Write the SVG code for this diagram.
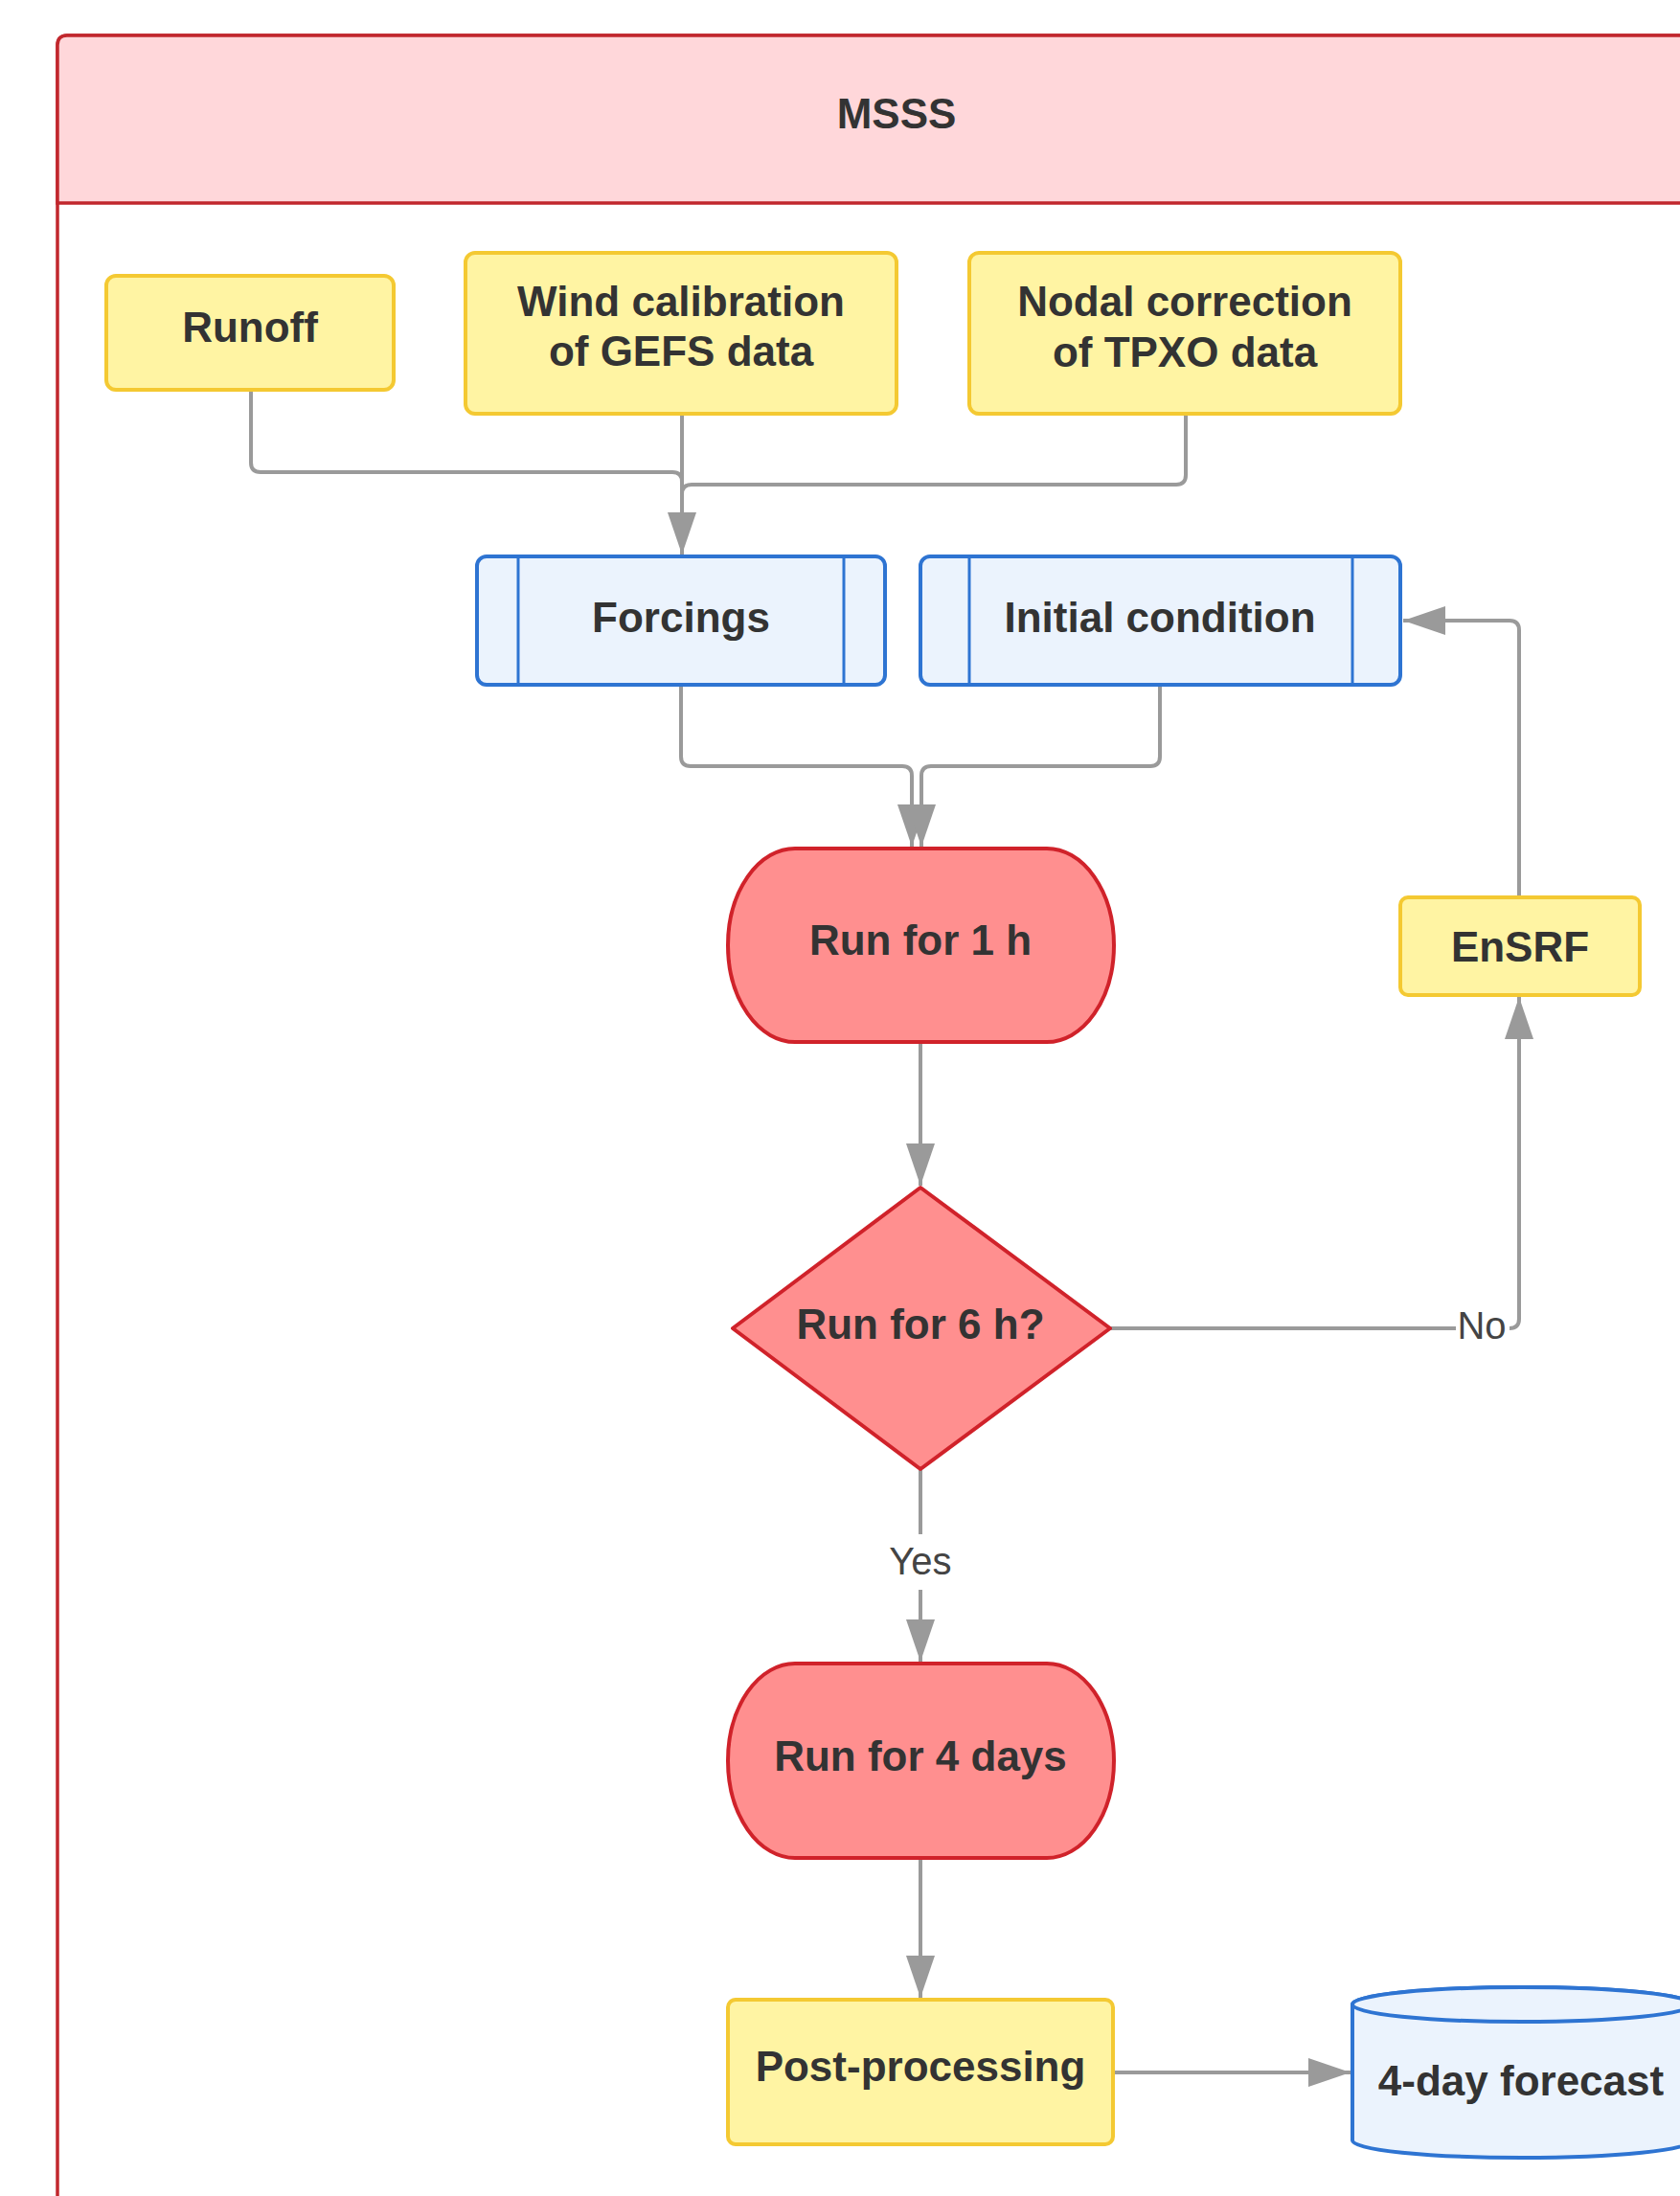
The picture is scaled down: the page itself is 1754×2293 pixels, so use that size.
<svg xmlns="http://www.w3.org/2000/svg" width="1754" height="2293" viewBox="0 0 1754 2293">
<style>
.t{font-family:"Liberation Sans",Arial,sans-serif;font-size:44px;font-weight:bold;fill:#333333;text-anchor:middle}
.l{font-family:"Liberation Sans",Arial,sans-serif;font-size:40px;fill:#444444;text-anchor:middle}
.y{fill:#fff4a3;stroke:#f4c932;stroke-width:4}
.r{fill:#ff8f8f;stroke:#d0222a;stroke-width:4;stroke-linejoin:round}
.b{fill:#ebf3fd;stroke:#2e74d2;stroke-width:4}
.c{fill:none;stroke:#9a9a9a;stroke-width:4}
</style>
<defs>
<marker id="ah" viewBox="0 0 44 30" refX="44" refY="15" markerWidth="44" markerHeight="30" markerUnits="userSpaceOnUse" orient="auto">
<path d="M0,0 L44,15 L0,30 Z" fill="#9a9a9a"/>
</marker>
</defs>
<rect width="1754" height="2293" fill="#ffffff"/>
<g id="container">
<rect x="60" y="37" width="1780" height="2330" rx="10" fill="#ffffff" stroke="#c1272d" stroke-width="3.5"/>
<path d="M60 212 V47 Q60 37 70 37 H1840 V212 Z" fill="#ffd7da" stroke="#c1272d" stroke-width="3.5"/>
<text class="t" x="936" y="134">MSSS</text>
</g>
<g id="connectors">
<path class="c" d="M262 407 V483 Q262 493 272 493 H702 Q712 493 712 503"/>
<path class="c" d="M712 432 V579" marker-end="url(#ah)"/>
<path class="c" d="M1238 432 V496 Q1238 506 1228 506 H722 Q712 506 712 516"/>
<path class="c" d="M711 715 V790 Q711 800 721 800 H942 Q952 800 952 810 V884" marker-end="url(#ah)"/>
<path class="c" d="M1211 715 V790 Q1211 800 1201 800 H972 Q962 800 962 810 V884" marker-end="url(#ah)"/>
<path class="c" d="M961 1088 V1238" marker-end="url(#ah)"/>
<path class="c" d="M1159 1387 H1576 Q1586 1387 1586 1377 V1041" marker-end="url(#ah)"/>
<path class="c" d="M1586 938 V658 Q1586 648 1576 648 H1465" marker-end="url(#ah)"/>
<path class="c" d="M961 1534 V1735" marker-end="url(#ah)"/>
<path class="c" d="M961 1940 V2086" marker-end="url(#ah)"/>
<path class="c" d="M1163 2164 H1410" marker-end="url(#ah)"/>
<rect x="1520" y="1362" width="56" height="44" fill="#ffffff"/>
<text class="l" x="1547" y="1398">No</text>
<rect x="922" y="1602" width="78" height="58" fill="#ffffff"/>
<text class="l" x="961" y="1644">Yes</text>
</g>
<g id="runoff">
<rect class="y" x="111" y="288" width="300" height="119" rx="10"/>
<text class="t" x="261" y="357">Runoff</text>
</g>
<g id="wind">
<rect class="y" x="486" y="264" width="450" height="168" rx="10"/>
<text class="t" x="711" y="330">Wind calibration</text>
<text class="t" x="711" y="382">of GEFS data</text>
</g>
<g id="nodal">
<rect class="y" x="1012" y="264" width="450" height="168" rx="10"/>
<text class="t" x="1237" y="330">Nodal correction</text>
<text class="t" x="1237" y="383">of TPXO data</text>
</g>
<g id="forcings">
<rect class="b" x="498" y="581" width="426" height="134" rx="10"/>
<line x1="541" y1="581" x2="541" y2="715" stroke="#2e74d2" stroke-width="3"/>
<line x1="881" y1="581" x2="881" y2="715" stroke="#2e74d2" stroke-width="3"/>
<text class="t" x="711" y="660">Forcings</text>
</g>
<g id="initial">
<rect class="b" x="961" y="581" width="501" height="134" rx="10"/>
<line x1="1012" y1="581" x2="1012" y2="715" stroke="#2e74d2" stroke-width="3"/>
<line x1="1412" y1="581" x2="1412" y2="715" stroke="#2e74d2" stroke-width="3"/>
<text class="t" x="1211" y="660">Initial condition</text>
</g>
<g id="run1h">
<path class="r" d="M830 886 H1093 A70 101 0 0 1 1093 1088 H830 A70 101 0 0 1 830 886 Z"/>
<text class="t" x="961" y="997">Run for 1 h</text>
</g>
<g id="ensrf">
<rect class="y" x="1462" y="937" width="250" height="102" rx="8"/>
<text class="t" x="1587" y="1004">EnSRF</text>
</g>
<g id="decision">
<path class="r" d="M961 1240 L1159 1387 L961 1534 L765 1387 Z"/>
<text class="t" x="961" y="1398">Run for 6 h?</text>
</g>
<g id="run4d">
<path class="r" d="M830 1737 H1093 A70 101.5 0 0 1 1093 1940 H830 A70 101.5 0 0 1 830 1737 Z"/>
<text class="t" x="961" y="1849">Run for 4 days</text>
</g>
<g id="post">
<rect class="y" x="760" y="2088" width="402" height="151" rx="8"/>
<text class="t" x="961" y="2173">Post-processing</text>
</g>
<g id="forecast">
<path class="b" d="M1412 2093 V2235 A177 18 0 0 0 1766 2235 V2093 A177 18 0 0 0 1412 2093 Z"/>
<ellipse class="b" cx="1589" cy="2093" rx="177" ry="18"/>
<text class="t" x="1588" y="2188">4-day forecast</text>
</g>
</svg>
